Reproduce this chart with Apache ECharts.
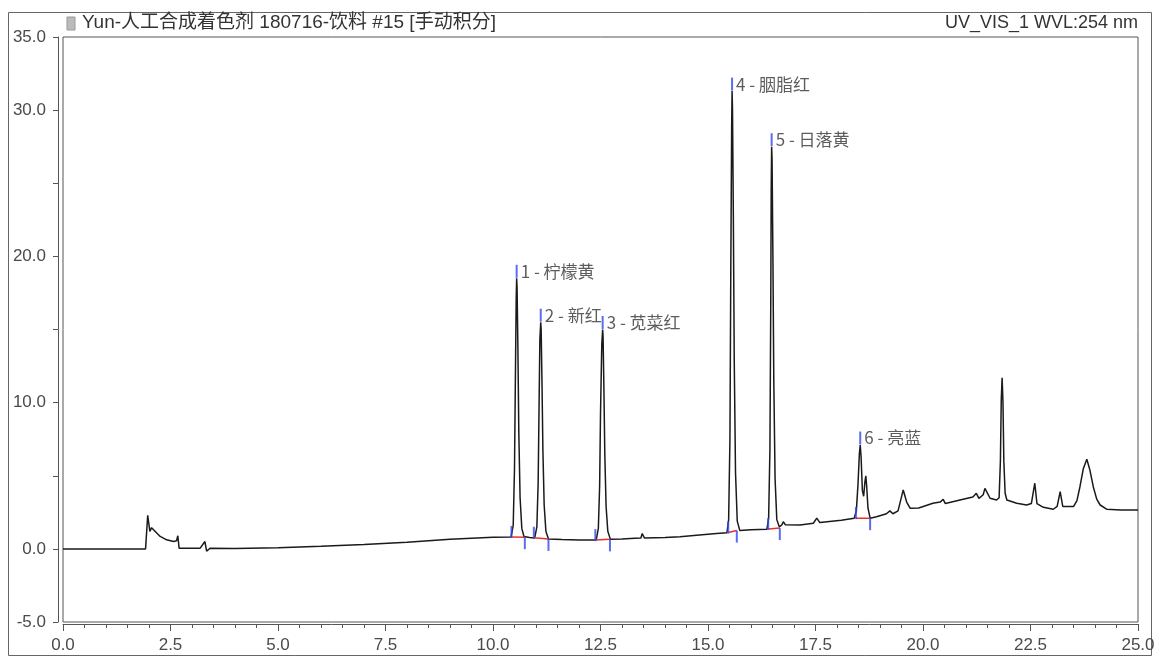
<!DOCTYPE html>
<html>
<head>
<meta charset="utf-8">
<script src="https://cdn.jsdelivr.net/npm/echarts@6/dist/echarts.min.js"></script>
<style>
html,body{margin:0;padding:0;background:#fff;}
#chart{width:1160px;height:659px;}
</style>
</head>
<body>
<div id="chart"></div>
<script>
// ---- data ----
const titleLeft = 'Yun-人工合成着色剂 180716-饮料 #15 [手动积分]';
const titleRight = 'UV_VIS_1 WVL:254 nm';
const yTickLabels = ['35.0', '30.0', '20.0', '10.0', '0.0', '-5.0'];
// chromatogram trace: [retention time (min), signal (mAU)]
const trace = [
  [0,0],[1.0,0],[1.92,0.0],[1.97,2.3],[2.02,1.2],[2.06,1.45],[2.10,1.4],[2.18,1.08],[2.26,0.85],
  [2.41,0.62],[2.57,0.5],[2.64,0.55],[2.67,0.9],[2.70,0.05],[3.0,0.04],[3.19,0.05],[3.30,0.5],
  [3.34,-0.15],[3.42,0.04],[4.0,0.03],[5.0,0.08],[6.0,0.18],[7.0,0.3],[8.0,0.45],[9.0,0.65],
  [10.0,0.8],[10.42,0.82],
  [10.47,1.6],[10.50,5.5],[10.52,11.5],[10.54,17.2],[10.55,18.5],[10.56,17.8],[10.58,13.5],
  [10.60,8.0],[10.63,3.5],[10.67,1.4],[10.72,0.85],[10.85,0.78],[10.97,0.75],
  [11.02,1.5],[11.05,4.5],[11.07,9.5],[11.09,14.3],[11.11,15.5],[11.12,15.0],[11.14,11.2],
  [11.16,6.8],[11.19,3.0],[11.23,1.2],[11.29,0.68],[11.6,0.64],[12.0,0.6],[12.40,0.6],
  [12.45,1.4],[12.48,4.3],[12.50,9.2],[12.53,14.0],[12.55,15.0],[12.56,14.5],[12.58,10.8],
  [12.60,6.5],[12.63,2.9],[12.67,1.2],[12.73,0.65],[13.0,0.68],[13.3,0.72],[13.44,0.74],
  [13.47,1.05],[13.52,0.75],[14.0,0.78],[14.35,0.83],[14.8,0.95],[15.2,1.05],[15.44,1.1],
  [15.48,2.0],[15.51,7.5],[15.53,19.0],[15.55,28.8],[15.56,31.3],[15.57,30.0],[15.59,22.5],
  [15.61,13.0],[15.64,5.2],[15.68,1.9],[15.74,1.25],[16.0,1.3],[16.37,1.34],
  [16.41,2.1],[16.44,6.8],[16.46,17.0],[16.47,24.5],[16.48,27.5],[16.49,26.6],[16.51,19.8],
  [16.53,11.5],[16.56,4.8],[16.60,2.0],[16.66,1.5],[16.72,1.65],[16.75,1.86],[16.8,1.65],
  [17.14,1.63],[17.45,1.75],[17.53,2.1],[17.6,1.8],[17.77,1.86],[18.1,1.95],[18.40,2.1],
  [18.45,2.6],[18.49,4.5],[18.52,6.5],[18.54,7.1],[18.56,6.3],[18.59,4.0],[18.62,3.6],
  [18.65,4.6],[18.67,5.0],[18.69,4.3],[18.72,2.8],[18.77,2.1],[18.92,2.2],[19.15,2.4],
  [19.23,2.6],[19.3,2.4],[19.42,2.6],[19.54,4.03],[19.62,3.2],[19.70,2.78],[19.9,2.8],
  [20.23,3.12],[20.40,3.2],[20.47,3.39],[20.52,3.1],[20.86,3.34],[21.16,3.55],[21.24,3.8],
  [21.30,3.45],[21.40,3.7],[21.44,4.14],[21.56,3.46],[21.71,3.34],
  [21.77,3.5],[21.80,6.0],[21.82,10.2],[21.84,11.7],[21.86,10.0],[21.88,6.0],[21.91,3.8],
  [21.95,3.34],[22.18,3.12],[22.41,3.0],[22.52,3.1],[22.6,4.49],[22.65,3.1],[22.8,2.84],
  [23.03,2.71],[23.12,2.9],[23.19,3.91],[23.25,2.9],[23.5,2.89],[23.58,3.3],[23.65,4.25],
  [23.73,5.5],[23.81,6.13],[23.88,5.4],[23.96,4.25],[24.04,3.4],[24.12,3.0],[24.27,2.71],
  [24.6,2.65],[25.0,2.65]
];
// identified peaks
const peakNames = ['1 - 柠檬黄', '2 - 新红', '3 - 苋菜红', '4 - 胭脂红', '5 - 日落黄', '6 - 亮蓝'];
const peakTimes = [10.55, 11.11, 12.55, 15.56, 16.48, 18.54];
const peakHeights = [18.5, 15.5, 15.0, 31.3, 27.5, 7.1];
// integration limits: [time, level]
const peakStarts = [[10.43, 0.82], [10.95, 0.76], [12.38, 0.6], [15.47, 1.12], [16.40, 1.36], [18.44, 2.1]];
const peakEnds = [[10.74, 0.8], [11.29, 0.68], [12.72, 0.65], [15.67, 1.25], [16.67, 1.42], [18.77, 2.1]];

// ---- chart ----
const chart = echarts.init(document.getElementById('chart'));
const font = '"Liberation Sans", Arial, "Noto Sans CJK SC", sans-serif';

const series = [{
  type: 'line',
  data: trace,
  showSymbol: false,
  symbol: 'none',
  lineStyle: { color: '#1a1a1a', width: 1.5 },
  z: 3,
  animation: false
}];
peakStarts.forEach((s, i) => {
  series.push({
    type: 'line', data: [s, peakEnds[i]], symbol: 'none',
    lineStyle: { color: '#e8322a', width: 1.5 }, z: 4, animation: false
  });
});
series.push({
  type: 'scatter',
  data: peakStarts,
  symbol: 'rect', symbolSize: [2, 12], symbolOffset: [0, -5],
  itemStyle: { color: '#3048f0' }, z: 5, animation: false
});
series.push({
  type: 'scatter',
  data: peakEnds,
  symbol: 'rect', symbolSize: [2, 12], symbolOffset: [0, 6],
  itemStyle: { color: '#3048f0' }, z: 5, animation: false
});
series.push({
  type: 'scatter',
  data: peakTimes.map((t, i) => ({ value: [t, peakHeights[i]], name: peakNames[i] })),
  symbol: 'rect', symbolSize: [2, 13], symbolOffset: [0, -7],
  itemStyle: { color: '#3048f0' },
  label: {
    show: true, position: 'right', distance: 3,
    formatter: p => p.name,
    fontFamily: '"Noto Sans CJK SC", "Liberation Sans", sans-serif',
    fontSize: 17, color: '#333'
  },
  z: 6, animation: false
});

chart.setOption({
  animation: false,
  backgroundColor: '#fff',
  grid: {
    left: 63, right: 22, top: 37, bottom: 37,
    show: true, borderColor: '#555', borderWidth: 1
  },
  xAxis: {
    type: 'value', min: 0, max: 25, interval: 2.5,
    offset: 2,
    axisLine: { show: true, onZero: false, lineStyle: { color: '#555', width: 1 } },
    axisTick: { show: true, length: 7, lineStyle: { color: '#555' } },
    minorTick: { show: true, splitNumber: 5, length: 4, lineStyle: { color: '#555' } },
    splitLine: { show: false },
    axisLabel: {
      margin: 13, fontSize: 17, color: '#4a4a4a', fontFamily: font,
      formatter: v => v.toFixed(1)
    }
  },
  yAxis: {
    type: 'value', min: -5, max: 35, interval: 5,
    offset: 5,
    axisLine: { show: true, onZero: false, lineStyle: { color: '#555', width: 1 } },
    axisTick: { show: true, length: 5, lineStyle: { color: '#555' } },
    splitLine: { show: false },
    axisLabel: {
      margin: 12, fontSize: 17, color: '#4a4a4a', fontFamily: font,
      formatter: v => { const s = v.toFixed(1); return yTickLabels.indexOf(s) >= 0 ? s : ''; }
    }
  },
  graphic: [
    { type: 'rect', shape: { x: 8.5, y: 12.5, width: 1143, height: 643 },
      style: { fill: null, stroke: '#666', lineWidth: 1 }, silent: true },
    { type: 'rect', shape: { x: 67, y: 17, width: 8, height: 13 },
      style: { fill: '#bbb', stroke: '#999', lineWidth: 1 }, silent: true },
    { type: 'text', left: 82, top: 13,
      style: { text: titleLeft, fontSize: 19, fill: '#333',
        fontFamily: '"Liberation Sans", Arial, "Noto Sans CJK SC", sans-serif' } },
    { type: 'text', right: 22, top: 14,
      style: { text: titleRight, fontSize: 18, fill: '#333', fontFamily: font } }
  ],
  series: series
});
</script>
</body>
</html>
